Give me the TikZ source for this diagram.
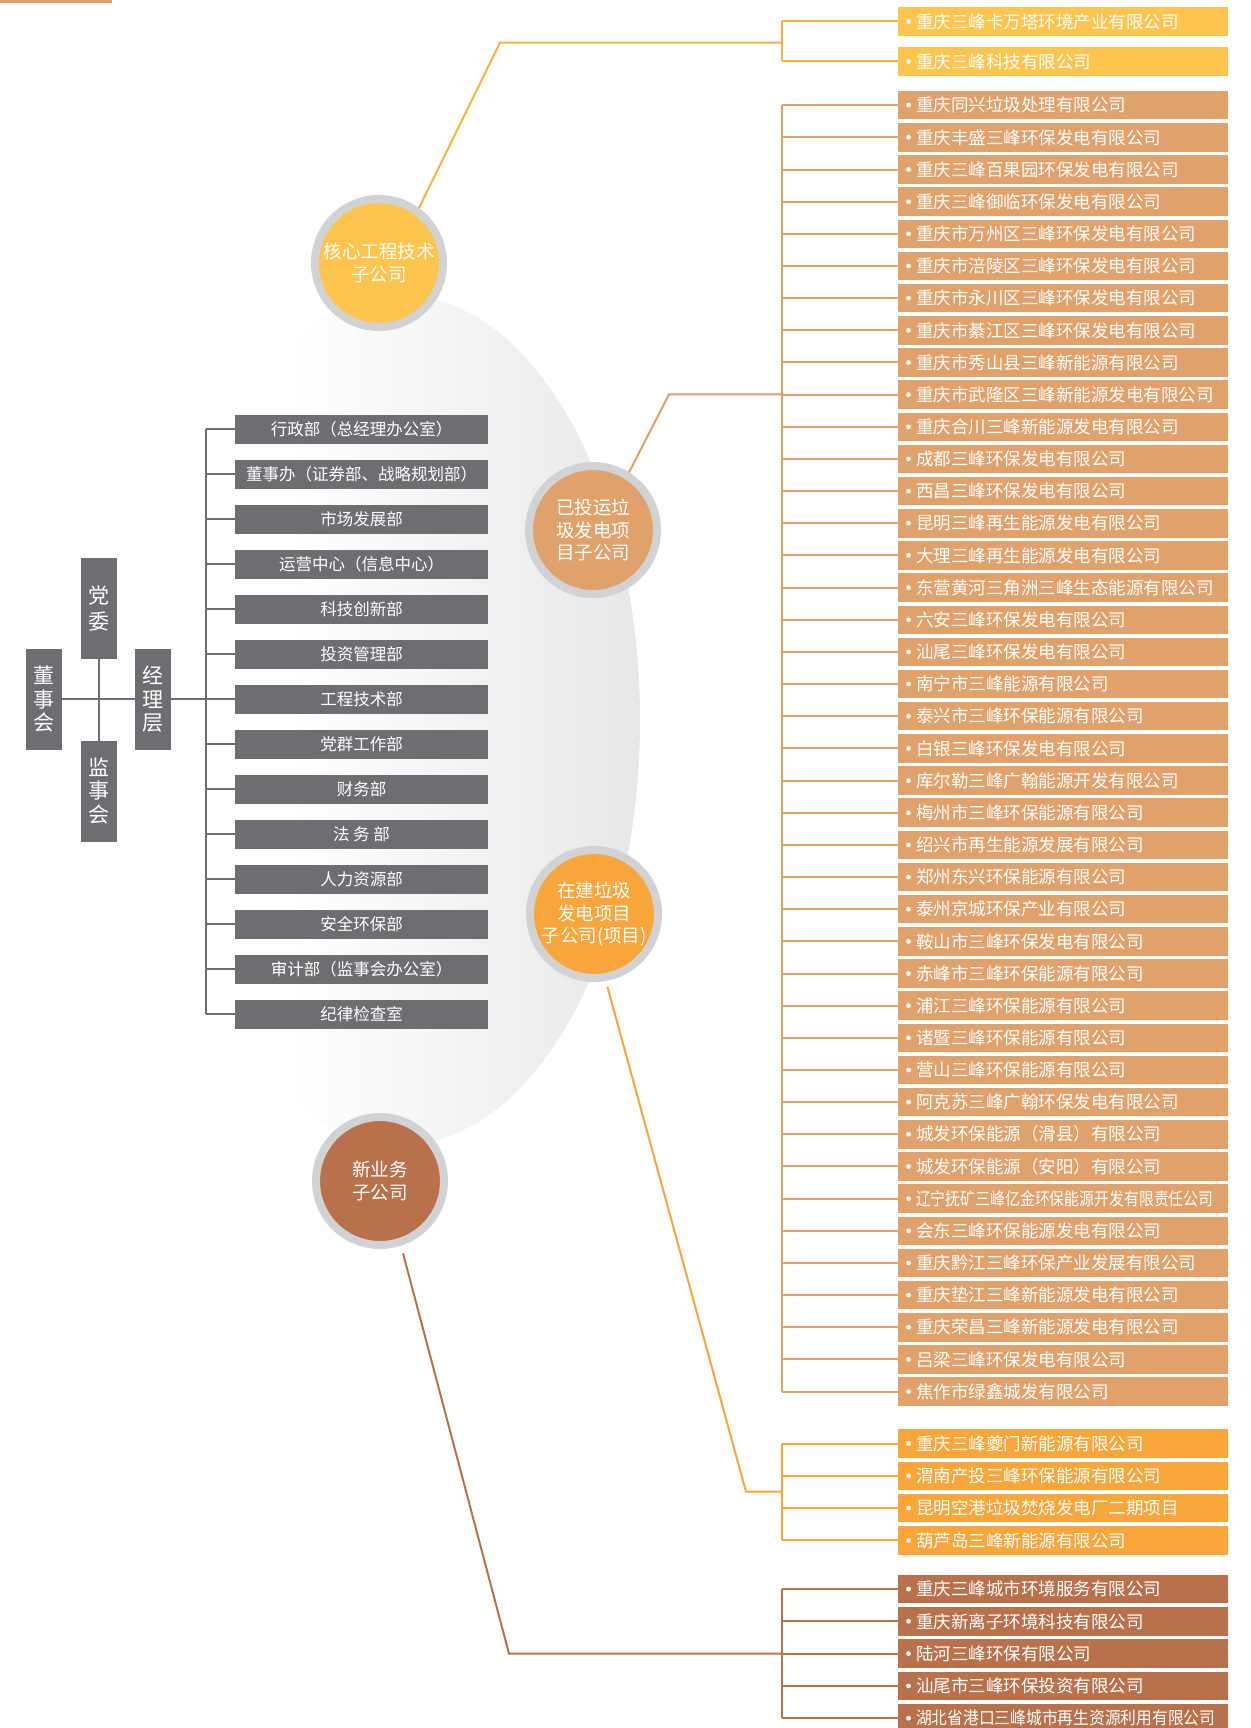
\documentclass[tikz,border=0pt]{standalone}
\usepackage{fontspec}
\usepackage{graphicx}
\usepackage{xcolor}
\usetikzlibrary{positioning}

\newfontfamily\cjk{Noto Sans CJK SC}
\newcommand{\boxfont}{\cjk\fontsize{17.5}{20}\selectfont}
\newcommand{\deptfont}{\cjk\fontsize{16.5}{20}\selectfont}
\newcommand{\hubfont}{\cjk\fontsize{18.5}{22.5}\selectfont}
\newcommand{\hdfont}{\cjk\fontsize{21}{23.3}\selectfont}

\definecolor{coreY}{HTML}{FDC44E}
\definecolor{coreL}{HTML}{FBB040}
\definecolor{runT}{HTML}{E1A16B}
\definecolor{runL}{HTML}{E2A062}
\definecolor{buildO}{HTML}{F8A53A}
\definecolor{buildL}{HTML}{F7A43A}
\definecolor{newB}{HTML}{B8714B}
\definecolor{newL}{HTML}{B8714B}
\definecolor{deptG}{HTML}{6D6E71}
\definecolor{ringG}{HTML}{D1D2D4}
\definecolor{bgG}{HTML}{E6E7E8}

\begin{document}
\begin{tikzpicture}[x = 1pt, y = -1pt, node distance = 3.66pt]
            \tikzstyle{dept} = [fill=deptG, text=white, minimum width=253pt, minimum height=28.5pt, inner sep=0pt, outer sep=0pt, font=\deptfont]
            \tikzstyle{head} = [fill=deptG, text=white, minimum width=36pt, minimum height=101pt, inner sep=0pt, outer sep=0pt, align=center, font=\hdfont]
            \tikzstyle{hub} = [circle, draw=ringG, line width=8pt, minimum size=128pt, inner sep=0pt, text=white, align=center, font=\hubfont]
            \tikzstyle{item} = [text=white, text width=294pt, align=left, inner xsep=18pt, inner ysep=0pt, minimum height=28.5pt, outer sep=0pt, font=\boxfont]
            \tikzstyle{gline} = [draw=deptG, line width=2.2pt]
            \tikzstyle{lk} = [line width=2pt]

            \useasboundingbox (0,0) rectangle (1250,1728);
            \fill [runT] (0,0) rectangle (112,3.5);

            \begin{scope}
                \clip (400,720) ellipse [x radius=240, y radius=425];
                \shade [left color=white, right color=bgG] (290,280) rectangle (642,1160);
            \end{scope}

            \node [hub, fill=coreY] (core) at (379,263) {核心工程技术\\子公司};
            \node [hub, fill=runT] (run) at (593,530) {已投运垃\\圾发电项\\目子公司};
            \node [hub, fill=buildO] (build) at (594,914) {在建垃圾\\发电项目\\子公司(项目)};
            \node [hub, fill=newB] (new) at (380,1181) {新业务\\子公司};

            \node [head] (board) at (43.5,699.3) {董\\事\\会};
            \node [head] (mgmt) at (152.5,699.3) {经\\理\\层};
            \node [head] (party) at (98.6,608.5) {党\\[3.4pt]委};
            \node [head] (superv) at (98.6,791) {监\\事\\会};

            \node [dept] (d1) at (361.5,429.3) {行政部（总经理办公室）};
            \foreach \name [count=\i from 2, remember=\i as \j (initially 1)] in {董事办（证券部、战略规划部）, 市场发展部, 运营中心（信息中心）, 科技创新部, 投资管理部, 工程技术部, 党群工作部, 财务部, 法 务 部, 人力资源部, 安全环保部, 审计部（监事会办公室）, 纪律检查室}
                \node [dept, below = 16.5pt of d\j] (d\i) {\name};

            \coordinate (dbus) at (206,0);
            \draw [gline] (d1.west -| dbus) -- (d14.west -| dbus);
            \foreach \i in {1,...,14}
                \draw [gline] (d\i.west -| dbus) -- (d\i.west);
            \draw [gline] (board) -- (mgmt);
            \draw [gline] (mgmt) -- (d7);
            \draw [gline] (party) -- (superv);

            \node [item, fill=coreY, anchor=west] (y1) at (898,21.5) {重庆三峰卡万塔环境产业有限公司};
            \node [item, fill=coreY, below = 11.5pt of y1] (y2) {重庆三峰科技有限公司};

            \node [item, fill=runT, anchor=west] (t1) at (898,105.2) {重庆同兴垃圾处理有限公司};
            \foreach \name [count=\i from 2, remember=\i as \j (initially 1)] in {重庆丰盛三峰环保发电有限公司, 重庆三峰百果园环保发电有限公司, 重庆三峰御临环保发电有限公司, 重庆市万州区三峰环保发电有限公司, 重庆市涪陵区三峰环保发电有限公司, 重庆市永川区三峰环保发电有限公司, 重庆市綦江区三峰环保发电有限公司, 重庆市秀山县三峰新能源有限公司, 重庆市武隆区三峰新能源发电有限公司, 重庆合川三峰新能源发电有限公司, 成都三峰环保发电有限公司, 西昌三峰环保发电有限公司, 昆明三峰再生能源发电有限公司, 大理三峰再生能源发电有限公司, 东营黄河三角洲三峰生态能源有限公司, 六安三峰环保发电有限公司, 汕尾三峰环保发电有限公司, 南宁市三峰能源有限公司, 泰兴市三峰环保能源有限公司, 白银三峰环保发电有限公司, 库尔勒三峰广翰能源开发有限公司, 梅州市三峰环保能源有限公司, 绍兴市再生能源发展有限公司, 郑州东兴环保能源有限公司, 泰州京城环保产业有限公司, 鞍山市三峰环保发电有限公司, 赤峰市三峰环保能源有限公司, 浦江三峰环保能源有限公司, 诸暨三峰环保能源有限公司, 营山三峰环保能源有限公司, 阿克苏三峰广翰环保发电有限公司, 城发环保能源（滑县）有限公司, 城发环保能源（安阳）有限公司, {\scalebox{0.85}[1]{辽宁抚矿三峰亿金环保能源开发有限责任公司}}, 会东三峰环保能源发电有限公司, 重庆黔江三峰环保产业发展有限公司, 重庆垫江三峰新能源发电有限公司, 重庆荣昌三峰新能源发电有限公司, 吕梁三峰环保发电有限公司, 焦作市绿鑫城发有限公司}
                \node [item, fill=runT, below = of t\j] (t\i) {\name};

            \node [item, fill=buildO, anchor=west] (b1) at (898,1443.5) {重庆三峰夔门新能源有限公司};
            \foreach \name [count=\i from 2, remember=\i as \j (initially 1)] in {渭南产投三峰环保能源有限公司, 昆明空港垃圾焚烧发电厂二期项目, 葫芦岛三峰新能源有限公司}
                \node [item, fill=buildO, below = 3.8pt of b\j] (b\i) {\name};

            \node [item, fill=newB, anchor=west] (n1) at (898,1589) {重庆三峰城市环境服务有限公司};
            \foreach \name [count=\i from 2, remember=\i as \j (initially 1)] in {重庆新离子环境科技有限公司, 陆河三峰环保有限公司, 汕尾市三峰环保投资有限公司, {\scalebox{0.9}[1]{湖北省港口三峰城市再生资源利用有限公司}}}
                \node [item, fill=newB, below = 3.8pt of n\j] (n\i) {\name};

            \foreach \g/\n in {y/2, t/41, b/4, n/5}
                \foreach \i in {1,...,\n}
                    \fill [white] ([xshift=10.5pt]\g\i.west) circle (2.4pt);

            \coordinate (bus) at (782,0);
            \foreach \g/\n/\c in {y/2/coreL, t/41/runL, b/4/buildL, n/5/newL} {
                \draw [lk, draw=\c] (\g1.west -| bus) -- (\g\n.west -| bus);
                \foreach \i in {1,...,\n}
                    \draw [lk, draw=\c] (\g\i.west) -- (\g\i.west -| bus);
            }

            \coordinate (yk) at (500,42.7);
            \coordinate (tk) at (669,394.3);
            \coordinate (bk) at (746,1491.7);
            \coordinate (nk) at (509,1653.6);
            \draw [lk, draw=coreL] (core.54) -- (yk) -- (yk -| bus);
            \draw [lk, draw=runL] (run.58) -- (tk) -- (tk -| bus);
            \draw [lk, draw=buildL, shorten < = 6pt] (build.-80) -- (bk) -- (bk -| bus);
            \draw [lk, draw=newL, shorten < = 8pt] (new.-72) -- (nk) -- (nk -| bus);
        \end{tikzpicture}
\end{document}
